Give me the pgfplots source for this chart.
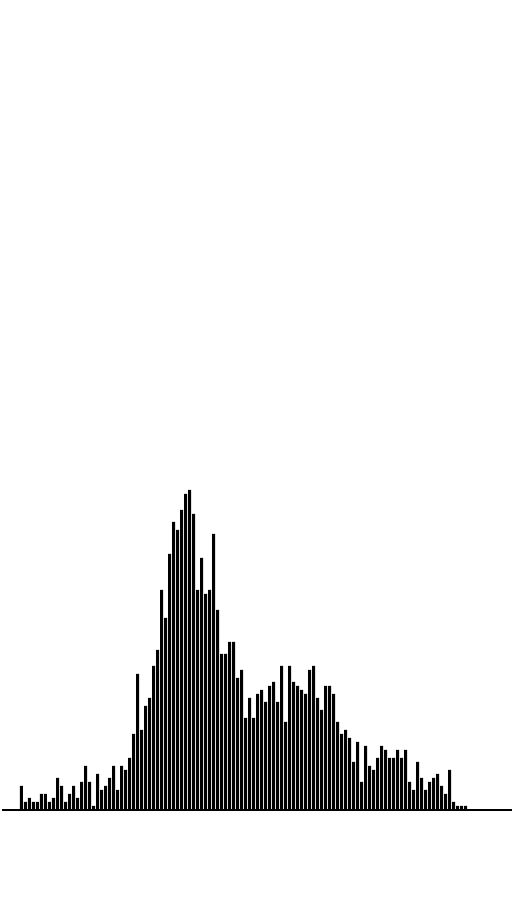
\documentclass[border=0pt]{standalone}
\usepackage{pgfplots}
\pgfplotsset{compat=1.18}
\begin{document}
\begin{tikzpicture}
\path[use as bounding box] (0,0) rectangle (256pt,450pt);
\begin{axis}[
  at={(1pt,45pt)}, anchor=south west,
  scale only axis, width=255pt, height=405pt,
  xmin=-4.875, xmax=122.625, ymin=0, ymax=202.5,
  axis x line=bottom, axis line style={-, line width=0.5pt, black},
  hide y axis, xtick=\empty, ytick=\empty,
  ybar, bar width=0.75,
]
\addplot[fill=black, draw=none] coordinates {
(0,6)(1,2)(2,3)(3,2)(4,2)(5,4)(6,4)(7,2)(8,3)(9,8)
(10,6)(11,2)(12,4)(13,6)(14,3)(15,7)(16,11)(17,7)(18,1)(19,9)
(20,5)(21,6)(22,8)(23,11)(24,5)(25,11)(26,10)(27,13)(28,19)(29,34)
(30,20)(31,26)(32,28)(33,36)(34,40)(35,55)(36,48)(37,64)(38,72)(39,70)
(40,75)(41,79)(42,80)(43,74)(44,55)(45,63)(46,54)(47,55)(48,69)(49,50)
(50,39)(51,39)(52,42)(53,42)(54,33)(55,35)(56,23)(57,28)(58,23)(59,29)
(60,30)(61,27)(62,31)(63,32)(64,27)(65,36)(66,22)(67,36)(68,32)(69,31)
(70,30)(71,29)(72,35)(73,36)(74,28)(75,25)(76,31)(77,31)(78,29)(79,22)
(80,19)(81,20)(82,18)(83,12)(84,17)(85,7)(86,16)(87,11)(88,10)(89,13)
(90,16)(91,15)(92,13)(93,13)(94,15)(95,13)(96,15)(97,7)(98,5)(99,12)
(100,8)(101,5)(102,7)(103,8)(104,9)(105,6)(106,4)(107,10)(108,2)(109,1)
(110,1)(111,1)
};
\end{axis}
\end{tikzpicture}
\end{document}
